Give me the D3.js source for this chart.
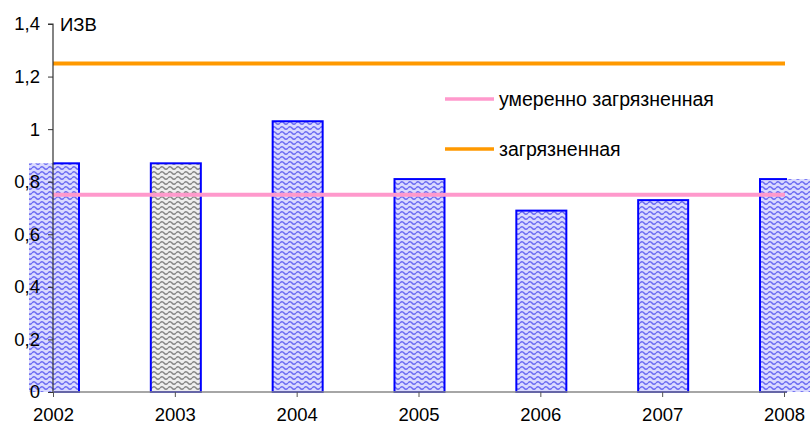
<!DOCTYPE html>
<html><head><meta charset="utf-8">
<script src="https://cdn.jsdelivr.net/npm/d3@7"></script>
<style>body{margin:0;background:#fff;} text{font-family:"Liberation Sans",Arial,sans-serif;}</style>
</head><body>
<svg id="c" width="811" height="425"></svg>
<script>
const years = ["2002","2003","2004","2005","2006","2007","2008"];
const values = [0.87, 0.87, 1.03, 0.81, 0.69, 0.73, 0.81];
const yTicks = [0, 0.2, 0.4, 0.6, 0.8, 1, 1.2, 1.4];
const yTickLabels = ["0","0,2","0,4","0,6","0,8","1","1,2","1,4"];
const refNames = ["умеренно загрязненная", "загрязненная"];
const refValues = [0.75, 1.25];
const refColors = ["#ff99cc", "#ff9900"];
const yTitle = "ИЗВ";

const svg = d3.select("#c");
const fs = 18.5;
const x0 = 53, x1 = 784, yTop = 24, yBot = 392;
const x = d3.scalePoint().domain(years).range([x0, x1]);
const y = d3.scaleLinear().domain([0, 1.4]).range([yBot, yTop]);
const bw = 50;

const defs = svg.append("defs");
function wave(id, bg, fg){
  const p = defs.append("pattern").attr("id", id).attr("patternUnits","userSpaceOnUse")
    .attr("width", 8).attr("height", 5);
  p.append("rect").attr("width",8).attr("height",5).attr("fill",bg);
  p.append("path").attr("d","M0,3 Q2,0.5 4,3 T8,3").attr("fill","none").attr("stroke",fg).attr("stroke-width",1.4);
}
wave("wb", "#dadaff", "#6a6af2");
wave("wg", "#eeeeee", "#858585");

defs.append("clipPath").attr("id","plot").append("rect")
  .attr("x", x0).attr("y", 0).attr("width", x1 - x0 + 3).attr("height", yBot + 1);

// bar fills (unclipped)
svg.append("g").selectAll("rect").data(years).join("rect")
  .attr("x", d => x(d) - bw/2 + 1).attr("width", bw)
  .attr("y", (d,i) => y(values[i])).attr("height", (d,i) => yBot - y(values[i]))
  .attr("fill", d => d === "2003" ? "url(#wg)" : "url(#wb)");
// bar borders (clipped to plot area)
svg.append("g").attr("clip-path","url(#plot)").selectAll("rect").data(years).join("rect")
  .attr("x", d => x(d) - bw/2 + 1).attr("width", bw)
  .attr("y", (d,i) => y(values[i])).attr("height", (d,i) => yBot - y(values[i]))
  .attr("fill", "none").attr("stroke", "#0000ff").attr("stroke-width", 2);

// reference lines
svg.append("g").selectAll("line").data(refValues).join("line")
  .attr("x1", x0).attr("x2", x1 + 1)
  .attr("y1", d => y(d)).attr("y2", d => y(d))
  .attr("stroke", (d,i) => refColors[i]).attr("stroke-width", 4);

// y axis
const ya = svg.append("g").attr("transform", `translate(${x0},0)`)
  .call(d3.axisLeft(y).tickValues(yTicks).tickFormat((d,i) => yTickLabels[i]).tickSize(5).tickPadding(8));
ya.select(".domain").attr("stroke","#333").attr("stroke-width",1.2).attr("d", `M-5,${yTop}H0V${yBot}`);
ya.selectAll(".tick line").attr("stroke","#333");
ya.selectAll("text").attr("font-size", fs).attr("fill","#000").style("font-family","Liberation Sans, Arial, sans-serif");

// x axis
const xa = svg.append("g").attr("transform", `translate(0,${yBot})`)
  .call(d3.axisBottom(x).tickSize(5).tickPadding(11));
xa.select(".domain").attr("stroke","#888").attr("stroke-width",1.5).attr("d", `M${x0},0H${x1+3}`);
xa.selectAll(".tick line").attr("stroke","#555");
xa.selectAll("text").attr("font-size", fs).attr("fill","#000").style("font-family","Liberation Sans, Arial, sans-serif");

// title
svg.append("text").attr("x", 60).attr("y", y(1.4) + 6.5).attr("font-size", fs).text(yTitle);

// legend
const lg = svg.append("g");
refNames.forEach((n,i) => {
  const ly = 99 + i*50;
  lg.append("line").attr("x1",445).attr("x2",494).attr("y1",ly).attr("y2",ly)
    .attr("stroke", refColors[i]).attr("stroke-width",3.5);
  lg.append("text").attr("x",499).attr("y",ly+6.5).attr("font-size",19.5).text(n);
});
</script>
</body></html>
